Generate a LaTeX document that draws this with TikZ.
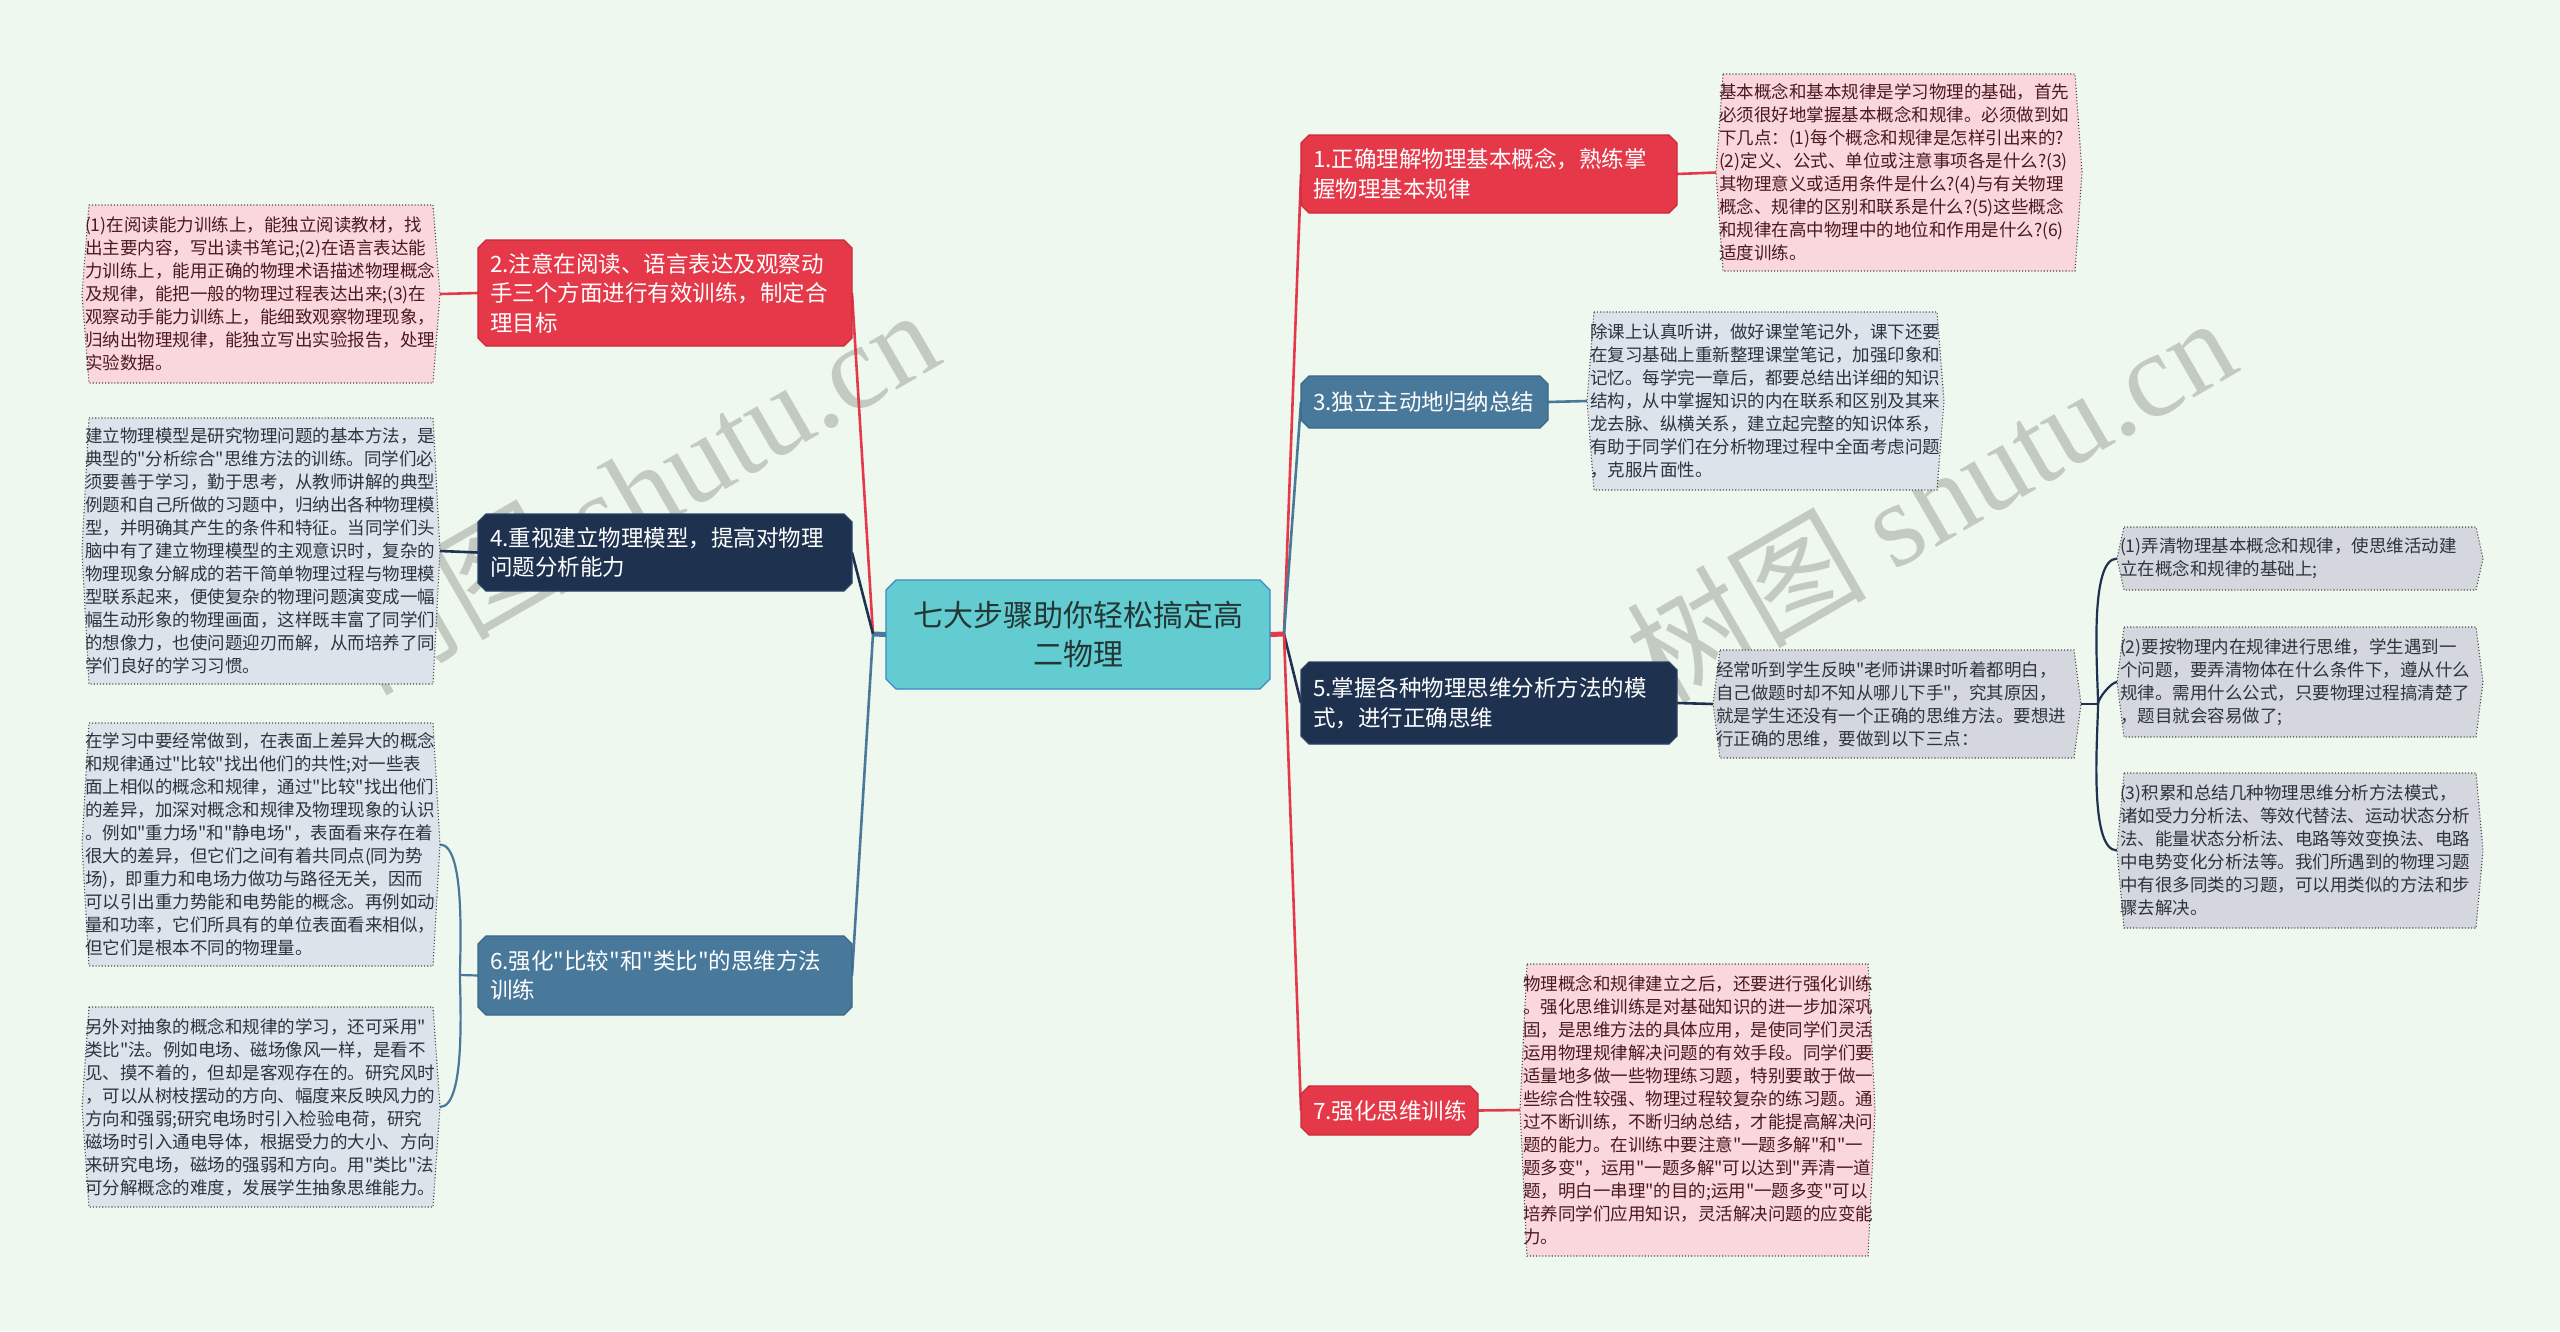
\documentclass[tikz,border=0pt]{standalone}
\usepackage{fontspec}
\setmainfont{Noto Sans CJK SC}[Ligatures=TeXOff]
\newfontfamily\wmserif{Liberation Serif}
\usetikzlibrary{backgrounds}
\definecolor{bgc}{HTML}{EFF8EE}
\definecolor{redb}{HTML}{E5394A}
\definecolor{redd}{HTML}{C92A3A}
\definecolor{blueb}{HTML}{48799B}
\definecolor{blued}{HTML}{3A6788}
\definecolor{navyb}{HTML}{1E3250}
\definecolor{navyd}{HTML}{2B4266}
\definecolor{rootf}{HTML}{62CCD0}
\definecolor{rootd}{HTML}{3E86C8}
\definecolor{roott}{HTML}{243535}
\definecolor{pinkf}{HTML}{FAD7DC}
\definecolor{pinkt}{HTML}{4A1A20}
\definecolor{bluef}{HTML}{DCE3EB}
\definecolor{grayf}{HTML}{D4D8DE}
\definecolor{leaft}{HTML}{2C3440}
\definecolor{dotc}{HTML}{4A4A4A}
\definecolor{wmc}{HTML}{C2CAC2}
\newcommand\leafshape[2]{%
  \draw[leafline, fill=#2] ([xshift=7pt]#1.north west) -- ([xshift=-7pt]#1.north east) -- (#1.east)
    -- ([xshift=-7pt]#1.south east) -- ([xshift=7pt]#1.south west) -- (#1.west) -- cycle;}
\newcommand\chamshape[4]{%
  \draw[fill=#2, draw=#3, line width=1.2pt] ([xshift=#4]#1.north west) -- ([xshift=-#4]#1.north east)
    -- ([yshift=-#4]#1.north east) -- ([yshift=#4]#1.south east) -- ([xshift=-#4]#1.south east)
    -- ([xshift=#4]#1.south west) -- ([yshift=#4]#1.south west) -- ([yshift=-#4]#1.north west) -- cycle;}
\begin{document}
\begin{tikzpicture}[x=1pt,y=-1pt,
  every node/.style={inner sep=0pt, outer sep=0pt},
  geom/.code n args={5}{\pgfmathsetmacro\mygeomtw{#3-2*#5}\edef\mygeomtmp{\noexpand\tikzset{at={(#1,#2)},minimum width=#3pt,minimum height=#4pt,text width=\mygeomtw pt,inner xsep=#5pt}}\mygeomtmp},
  rootbox/.style={anchor=north west, align=center, text=roott, font=\fontsize{30}{39}\selectfont},
  branch/.style={anchor=north west, align=left, text=white, font=\fontsize{22.5}{29.5}\selectfont},
  leaf/.style={anchor=north west, align=left, font=\fontsize{17.5}{23}\selectfont},
  pinkleaf/.style={leaf, text=pinkt},
  blueleaf/.style={leaf, text=leaft},
  leafline/.style={draw=dotc, line width=1.1pt, dotted},
  conn/.style={line width=2.6pt},
  sub/.style={line width=2.2pt, looseness=0.5},
  wm/.style={text=wmc, font=\fontsize{120}{120}\selectfont, rotate=30}
]
\useasboundingbox (0,0) rectangle (2560,1331);
% ---------- nodes ----------
\node[rootbox, geom={886}{580}{384}{109}{10}] (root) {七大步骤助你轻松搞定高\\二物理};

\node[branch, geom={1301}{135}{376}{78}{12}] (b1) {1.正确理解物理基本概念，熟练掌\\握物理基本规律};
\node[branch, geom={478}{240}{374}{106}{12}] (b2) {2.注意在阅读、语言表达及观察动\\手三个方面进行有效训练，制定合\\理目标};
\node[branch, geom={1301}{376}{247}{52}{12}] (b3) {3.独立主动地归纳总结};
\node[branch, geom={478}{514}{374}{77}{12}] (b4) {4.重视建立物理模型，提高对物理\\问题分析能力};
\node[branch, geom={1301}{662}{376}{82}{12}] (b5) {5.掌握各种物理思维分析方法的模\\式，进行正确思维};
\node[branch, geom={478}{936}{374}{79}{12}] (b6) {6.强化"比较"和"类比"的思维方法\\训练};
\node[branch, geom={1301}{1086}{177}{49}{12}] (b7) {7.强化思维训练};

\node[pinkleaf, geom={1716}{74}{366}{197}{3}] (l1) {基本概念和基本规律是学习物理的基础，首先\\必须很好地掌握基本概念和规律。必须做到如\\下几点：(1)每个概念和规律是怎样引出来的?\\(2)定义、公式、单位或注意事项各是什么?(3)\\其物理意义或适用条件是什么?(4)与有关物理\\概念、规律的区别和联系是什么?(5)这些概念\\和规律在高中物理中的地位和作用是什么?(6)\\适度训练。};
\node[pinkleaf, geom={82}{205}{358}{178}{3}] (l2) {(1)在阅读能力训练上，能独立阅读教材，找\\出主要内容，写出读书笔记;(2)在语言表达能\\力训练上，能用正确的物理术语描述物理概念\\及规律，能把一般的物理过程表达出来;(3)在\\观察动手能力训练上，能细致观察物理现象，\\归纳出物理规律，能独立写出实验报告，处理\\实验数据。};
\node[blueleaf, geom={1587}{312}{357}{178}{3}] (l3) {除课上认真听讲，做好课堂笔记外，课下还要\\在复习基础上重新整理课堂笔记，加强印象和\\记忆。每学完一章后，都要总结出详细的知识\\结构，从中掌握知识的内在联系和区别及其来\\龙去脉、纵横关系，建立起完整的知识体系，\\有助于同学们在分析物理过程中全面考虑问题\\，克服片面性。};
\node[blueleaf, geom={82}{418}{358}{266}{3}] (l4) {建立物理模型是研究物理问题的基本方法，是\\典型的"分析综合"思维方法的训练。同学们必\\须要善于学习，勤于思考，从教师讲解的典型\\例题和自己所做的习题中，归纳出各种物理模\\型，并明确其产生的条件和特征。当同学们头\\脑中有了建立物理模型的主观意识时，复杂的\\物理现象分解成的若干简单物理过程与物理模\\型联系起来，便使复杂的物理问题演变成一幅\\幅生动形象的物理画面，这样既丰富了同学们\\的想像力，也使问题迎刃而解，从而培养了同\\学们良好的学习习惯。};
\node[blueleaf, geom={1713}{650}{368}{108}{3}] (l5) {经常听到学生反映"老师讲课时听着都明白，\\自己做题时却不知从哪儿下手"，究其原因，\\就是学生还没有一个正确的思维方法。要想进\\行正确的思维，要做到以下三点：};
\node[blueleaf, geom={2117}{527}{366}{63}{3}] (c1) {(1)弄清物理基本概念和规律，使思维活动建\\立在概念和规律的基础上;};
\node[blueleaf, geom={2117}{627}{366}{110}{3}] (c2) {(2)要按物理内在规律进行思维，学生遇到一\\个问题，要弄清物体在什么条件下，遵从什么\\规律。需用什么公式，只要物理过程搞清楚了\\，题目就会容易做了;};
\node[blueleaf, geom={2117}{773}{366}{155}{3}] (c3) {(3)积累和总结几种物理思维分析方法模式，\\诸如受力分析法、等效代替法、运动状态分析\\法、能量状态分析法、电路等效变换法、电路\\中电势变化分析法等。我们所遇到的物理习题\\中有很多同类的习题，可以用类似的方法和步\\骤去解决。};
\node[blueleaf, geom={82}{723}{358}{243}{3}] (l6a) {在学习中要经常做到，在表面上差异大的概念\\和规律通过"比较"找出他们的共性;对一些表\\面上相似的概念和规律，通过"比较"找出他们\\的差异，加深对概念和规律及物理现象的认识\\。例如"重力场"和"静电场"，表面看来存在着\\很大的差异，但它们之间有着共同点(同为势\\场)，即重力和电场力做功与路径无关，因而\\可以引出重力势能和电势能的概念。再例如动\\量和功率，它们所具有的单位表面看来相似，\\但它们是根本不同的物理量。};
\node[blueleaf, geom={82}{1007}{358}{200}{3}] (l6b) {另外对抽象的概念和规律的学习，还可采用"\\类比"法。例如电场、磁场像风一样，是看不\\见、摸不着的，但却是客观存在的。研究风时\\，可以从树枝摆动的方向、幅度来反映风力的\\方向和强弱;研究电场时引入检验电荷，研究\\磁场时引入通电导体，根据受力的大小、方向\\来研究电场，磁场的强弱和方向。用"类比"法\\可分解概念的难度，发展学生抽象思维能力。};
\node[pinkleaf, geom={1520}{964}{355}{292}{3}] (l7) {物理概念和规律建立之后，还要进行强化训练\\。强化思维训练是对基础知识的进一步加深巩\\固，是思维方法的具体应用，是使同学们灵活\\运用物理规律解决问题的有效手段。同学们要\\适量地多做一些物理练习题，特别要敢于做一\\些综合性较强、物理过程较复杂的练习题。通\\过不断训练，不断归纳总结，才能提高解决问\\题的能力。在训练中要注意"一题多解"和"一\\题多变"，运用"一题多解"可以达到"弄清一道\\题，明白一串理"的目的;运用"一题多变"可以\\培养同学们应用知识，灵活解决问题的应变能\\力。};

\coordinate (rh) at (1284,634);
\coordinate (lh) at (873,634);
\coordinate (h5) at (2098,704);
\coordinate (h6) at (460,975);

\begin{scope}[on background layer]
\fill[bgc] (0,0) rectangle (2560,1331);
\node[wm] (wm1) at (633,490) {树图 {\wmserif shutu.cn}};
\node[wm] (wm2) at (1930,498) {树图 {\wmserif shutu.cn}};
% connectors from root
\draw[redb, line width=5pt] (root.east) -- (rh);
\draw[blueb, line width=5pt] (root.west) -- (lh);
\draw[conn, redb] (rh) -- (b1.west);
\draw[conn, blueb] (rh) -- (b3.west);
\draw[conn, navyb] (rh) -- (b5.west);
\draw[conn, redb] (rh) -- (b7.west);
\draw[conn, redb] (lh) -- (b2.east);
\draw[conn, navyb] (lh) -- (b4.east);
\draw[conn, blueb] (lh) -- (b6.east);
% branch to leaf
\draw[conn, redb] (b1.east) -- (l1.west);
\draw[conn, redb] (b2.west) -- (l2.east);
\draw[conn, blueb] (b3.east) -- (l3.west);
\draw[conn, navyb] (b4.west) -- (l4.east);
\draw[conn, navyb] (b5.east) -- (l5.west);
\draw[conn, redb] (b7.east) -- (l7.west);
\draw[sub, blueb] (b6.west) -- (h6);
\draw[sub, blueb] (h6) to[out=90,in=0] (l6a.east);
\draw[sub, blueb] (h6) to[out=-90,in=0] (l6b.east);
\draw[sub, navyb] (l5.east) -- (h5);
\draw[sub, navyb] (h5) to[out=90,in=180] (c1.west);
\draw[sub, navyb] (h5) to[out=90,in=180] (c2.west);
\draw[sub, navyb] (h5) to[out=-90,in=180] (c3.west);
% shapes
\chamshape{root}{rootf}{rootd}{10pt}
\chamshape{b1}{redb}{redd}{8pt}
\chamshape{b2}{redb}{redd}{8pt}
\chamshape{b7}{redb}{redd}{8pt}
\chamshape{b3}{blueb}{blued}{8pt}
\chamshape{b6}{blueb}{blued}{8pt}
\chamshape{b4}{navyb}{navyd}{8pt}
\chamshape{b5}{navyb}{navyd}{8pt}
\leafshape{l1}{pinkf}
\leafshape{l2}{pinkf}
\leafshape{l7}{pinkf}
\leafshape{l3}{bluef}
\leafshape{l4}{bluef}
\leafshape{l6a}{bluef}
\leafshape{l6b}{bluef}
\leafshape{l5}{grayf}
\leafshape{c1}{grayf}
\leafshape{c2}{grayf}
\leafshape{c3}{grayf}
\end{scope}
\end{tikzpicture}
\end{document}
